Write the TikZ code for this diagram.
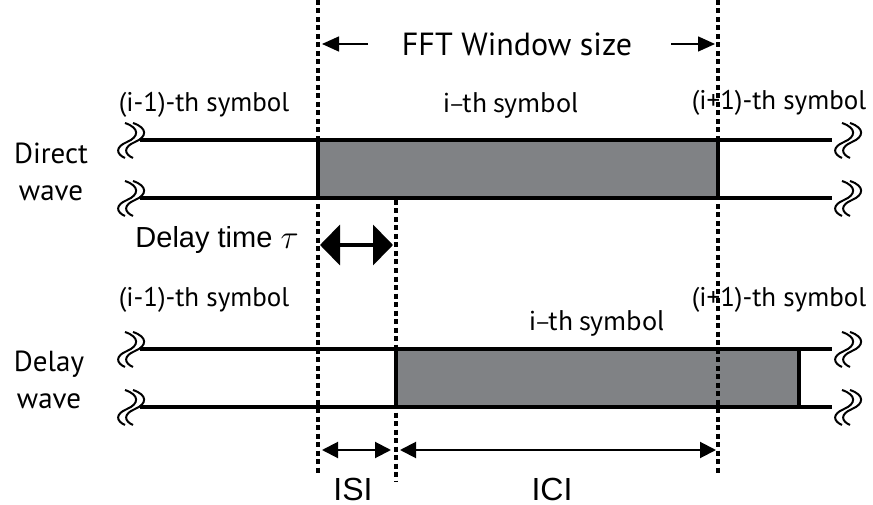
\documentclass[tikz,border=0pt]{standalone}
\usepackage{fontspec}
\setmainfont{PT Sans}
\newfontfamily\helvfont{Liberation Sans}
\newfontfamily\jpfont{Noto Sans CJK JP}
\usetikzlibrary{arrows.meta}
\definecolor{symgray}{RGB}{128,130,133}
\tikzset{
  wire/.style={line width=4pt},
  guide/.style={line width=3.5pt, dash pattern=on 5pt off 3.5pt},
  symtext/.style={inner sep=0pt, font=\fontsize{27}{30}\selectfont},
  midtext/.style={inner sep=0pt, font=\jpfont\fontsize{25}{30}\selectfont},
  wavetext/.style={inner sep=0pt, align=center, font=\fontsize{29}{37}\selectfont},
  helvtext/.style={inner sep=0pt, font=\helvfont\fontsize{29}{34}\selectfont},
  wbreak/.pic={
    \draw[line width=2pt] (-10,-17) .. controls (5,-12) and (4,-3) .. (-8,2)
          .. controls (-20,7) and (-19,14) .. (-10,18);
    \draw[line width=2pt] (-18,-17) .. controls (-3,-12) and (-4,-3) .. (-16,2)
          .. controls (-28,7) and (-27,14) .. (-18,18);
  }
}
\begin{document}
\begin{tikzpicture}[x=1pt, y=-1pt]
  \useasboundingbox (0,0) rectangle (873,505);

  % symbol boxes
  \fill[symgray] (318,140) rectangle (718,198);   % i-th symbol, direct wave
  \fill[symgray] (396,349) rectangle (799,407);   % i-th symbol, delay wave
  \draw[wire] (318,140) -- (318,198);
  \draw[wire] (718,140) -- (718,198);
  \draw[wire] (396,349) -- (396,407);
  \draw[wire] (799,349) -- (799,407);

  % signal lines with breaks at both ends
  \foreach \y in {140,198,349,407} {
    \draw[wire] (140,\y) -- (832,\y);
    \pic at (143,\y) {wbreak};
    \pic at (860,\y) {wbreak};
  }

  % FFT window edges and delayed symbol start
  \draw[guide] (318,0) -- (318,473);
  \draw[guide] (718,0) -- (718,473);
  \draw[guide] (396,200) -- (396,482);

  % labels
  \node[symtext] (prevA) at (204,105) {(i-1)-th symbol};
  \node[midtext] (curA) at (511,105) {i–th symbol};
  \node[symtext] (nextA) at (779,103) {(i+1)-th symbol};
  \node[symtext] (prevB) at (204,300) {(i-1)-th symbol};
  \node[midtext] (curB) at (597,323) {i–th symbol};
  \node[symtext] (nextB) at (779,300) {(i+1)-th symbol};
  \node[wavetext] (direct) at (51,172) {Direct\\wave};
  \node[wavetext] (delay) at (49,380) {Delay\\wave};
  \node[font=\fontsize{32}{36}\selectfont, inner sep=0pt] (fft) at (517,44) {FFT Window size};
  \node[helvtext] (dtime) at (217,240) {Delay time \raisebox{-1pt}{\scalebox{1.35}{$\tau$}}};
  \node[helvtext, font=\helvfont\fontsize{32}{36}\selectfont] (isi) at (353,489) {ISI};
  \node[helvtext, font=\helvfont\fontsize{32}{36}\selectfont] (ici) at (552,489) {ICI};

  % arrows
  \coordinate (fftLs) at (368,44);
  \coordinate (fftL) at (322,44);
  \coordinate (fftRs) at (671,44);
  \coordinate (fftR) at (715,44);
  \draw[line width=1.5pt, -{Triangle[length=17pt,width=15pt]}] (fftLs) -- (fftL);
  \draw[line width=1.5pt, -{Triangle[length=17pt,width=15pt]}] (fftRs) -- (fftR);

  \coordinate (tauL) at (320,245);
  \coordinate (tauR) at (393,245);
  \draw[line width=4pt, {Triangle[length=20pt,width=40pt]}-{Triangle[length=20pt,width=40pt]}] (tauL) -- (tauR);

  \coordinate (isiL) at (322,450);
  \coordinate (isiR) at (391,450);
  \coordinate (iciL) at (400,450);
  \coordinate (iciR) at (716,450);
  \draw[line width=2pt, {Triangle[length=16pt,width=16pt]}-{Triangle[length=16pt,width=16pt]}] (isiL) -- (isiR);
  \draw[line width=2pt, {Triangle[length=16pt,width=16pt]}-{Triangle[length=16pt,width=16pt]}] (iciL) -- (iciR);
\end{tikzpicture}
\end{document}
